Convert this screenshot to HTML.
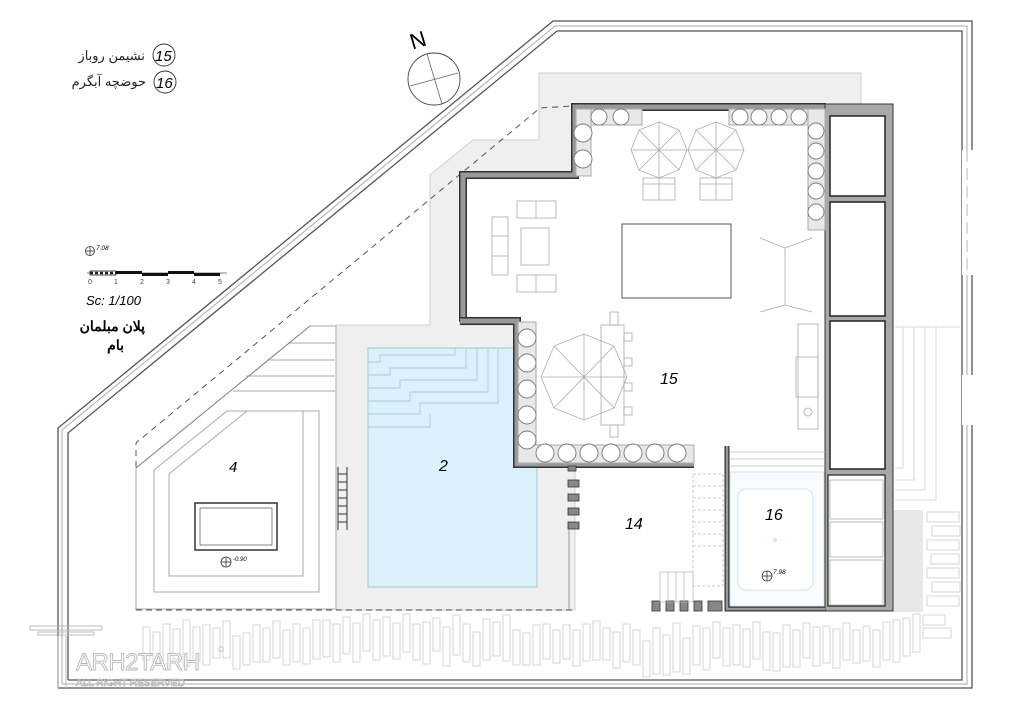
<!DOCTYPE html>
<html><head><meta charset="utf-8"><style>
html,body{margin:0;padding:0;background:#fff;}
svg{display:block;}
text{font-family:"Liberation Sans","Noto Sans CJK SC",sans-serif;}
</style></head><body>
<svg width="1018" height="720" viewBox="0 0 1018 720" xmlns="http://www.w3.org/2000/svg">
<rect width="1018" height="720" fill="#fff"/>

<!-- gray paving -->
<polygon points="430,175 473,140 539,140 539,73 861,73 861,200 460,200 460,325 575,325 575,610 336,610 336,325 430,325" fill="#efefef" stroke="#cfcfcf" stroke-width="1"/>
<rect x="893" y="510" width="30" height="102" fill="#e8e8e8"/>

<!-- outer boundary -->
<g fill="none" stroke="#555" stroke-width="1.3">
<polyline points="58,688 58,428 553,21 972,21 972,688 58,688"/>
<polyline points="68,680 68,433 557,31 962,31 962,680 68,680"/>
</g>
<g fill="none" stroke="#aaa" stroke-width="1">
<polyline points="62,684 62,430 555,26 967,26 967,684 62,684"/>
</g>
<rect x="962" y="150" width="11" height="125" fill="#fff"/>
<rect x="962" y="375" width="11" height="50" fill="#fff"/>
<line x1="967" y1="150" x2="967" y2="275" stroke="#999" stroke-width="0.7" stroke-dasharray="12,6"/>

<!-- dashed line -->
<polyline points="136,610 136,443 540,108 572,106" fill="none" stroke="#444" stroke-width="0.9" stroke-dasharray="6,5"/>
<line x1="136" y1="610" x2="575" y2="610" stroke="#444" stroke-width="0.9" stroke-dasharray="6,4"/>

<!-- left garden -->
<g fill="none" stroke="#aaa" stroke-width="1">
<polygon points="136,468 310,326 336,326 336,609 136,609"/>
<polygon points="154,470 227,411 319,411 319,592 154,592"/>
<polygon points="169,474 247,411 303,411 303,576 169,576"/>
<line x1="288" y1="343" x2="335" y2="343"/><line x1="267" y1="360" x2="335" y2="360"/><line x1="246" y1="376" x2="335" y2="376"/><line x1="233" y1="391" x2="335" y2="391"/>
<polyline points="136,468 310,326" stroke="#888"/>
</g>
<rect x="195" y="503" width="82" height="47" fill="#fff" stroke="#333" stroke-width="1.5"/>
<rect x="200" y="508" width="72" height="37" fill="none" stroke="#666" stroke-width="0.8"/>
<g stroke="#333" stroke-width="1" fill="none">
<line x1="338" y1="467" x2="338" y2="530"/><line x1="347" y1="467" x2="347" y2="530"/>
<line x1="338" y1="474" x2="347" y2="474"/><line x1="338" y1="482" x2="347" y2="482"/><line x1="338" y1="490" x2="347" y2="490"/><line x1="338" y1="498" x2="347" y2="498"/><line x1="338" y1="506" x2="347" y2="506"/><line x1="338" y1="514" x2="347" y2="514"/><line x1="338" y1="522" x2="347" y2="522"/>
</g>
<circle cx="226" cy="562" r="5" fill="none" stroke="#333" stroke-width="0.8"/><line x1="221" y1="562" x2="231" y2="562" stroke="#333" stroke-width="0.8"/><line x1="226" y1="557" x2="226" y2="567" stroke="#333" stroke-width="0.8"/>
<text x="233" y="561" font-size="6" font-style="italic">-0.90</text>
<text x="229" y="472" font-size="15" font-style="italic">4</text>

<!-- pool -->
<rect x="368" y="348" width="169" height="239" fill="#dcf0fb" stroke="#9cc" stroke-width="1"/>
<g fill="none" stroke="#a9c9d6" stroke-width="0.9">
<polyline points="368,362 380,362 380,355 455,355 455,348"/>
<polyline points="368,375 390,375 390,368 466,368 466,348"/>
<polyline points="368,388 400,388 400,380 477,380 477,348"/>
<polyline points="368,401 410,401 410,392 488,392 488,348"/>
<polyline points="368,414 420,414 420,403 498,403 498,348"/>
<polyline points="368,427 430,427 430,414"/>
</g>
<text x="439" y="471" font-size="16" font-style="italic">2</text>

<!-- terrace 15 walls -->
<polygon points="460,322 460,172 572,172 572,104 826,104 826,470 694,470 694,466 514,466 514,322" fill="#fff"/>
<polyline points="463,322 463,175 575,175 575,107 826,107" fill="none" stroke="#333" stroke-width="8"/>
<polyline points="463,322 463,175 575,175 575,107 826,107" fill="none" stroke="#999" stroke-width="5"/>
<polyline points="460,321 517,321 517,464 694,464" fill="none" stroke="#333" stroke-width="8"/>
<polyline points="460,321 517,321 517,464 694,464" fill="none" stroke="#999" stroke-width="5"/>

<!-- right column -->
<rect x="825" y="104" width="68" height="507" fill="#a8a8a8" stroke="#333" stroke-width="1"/>
<rect x="830" y="116" width="55" height="80" fill="#fff" stroke="#222" stroke-width="1.5"/>
<rect x="830" y="202" width="55" height="114" fill="#fff" stroke="#222" stroke-width="1.5"/>
<rect x="830" y="321" width="55" height="148" fill="#fff" stroke="#222" stroke-width="1.5"/>
<rect x="828" y="475" width="57" height="131" fill="#fff" stroke="#222" stroke-width="1.2"/>
<rect x="830" y="480" width="53" height="39" fill="#fff" stroke="#aaa" stroke-width="0.8"/>
<rect x="830" y="522" width="53" height="35" fill="#fff" stroke="#aaa" stroke-width="0.8"/>
<rect x="830" y="560" width="53" height="45" fill="#fff" stroke="#aaa" stroke-width="0.8"/>

<!-- benches -->
<g fill="#e8e8e8" stroke="#aaa" stroke-width="1">
<rect x="576" y="109" width="66" height="16"/><rect x="576" y="109" width="15" height="67"/>
<rect x="729" y="109" width="97" height="16"/><rect x="808" y="109" width="17" height="121"/>
<rect x="518" y="322" width="18" height="142"/><rect x="518" y="445" width="176" height="18"/>
</g>
<g fill="#fff" stroke="#777" stroke-width="0.9">
<circle cx="599" cy="117" r="8"/><circle cx="621" cy="117" r="8"/>
<circle cx="583" cy="133" r="9"/><circle cx="583" cy="159" r="9"/>
<circle cx="740" cy="117" r="8"/><circle cx="759" cy="117" r="8"/><circle cx="779" cy="117" r="8"/><circle cx="799" cy="117" r="8"/>
<circle cx="816" cy="131" r="8"/><circle cx="816" cy="151" r="8"/><circle cx="816" cy="171" r="8"/><circle cx="816" cy="191" r="8"/><circle cx="816" cy="212" r="8"/>
<circle cx="527" cy="338" r="9"/><circle cx="527" cy="363" r="9"/><circle cx="527" cy="389" r="9"/><circle cx="527" cy="415" r="9"/><circle cx="527" cy="440" r="9"/>
<circle cx="545" cy="453" r="9"/><circle cx="567" cy="453" r="9"/><circle cx="589" cy="453" r="9"/><circle cx="611" cy="453" r="9"/><circle cx="633" cy="453" r="9"/><circle cx="655" cy="453" r="9"/><circle cx="677" cy="453" r="9"/>
</g>

<!-- umbrellas -->
<g fill="none" stroke="#aaa" stroke-width="0.8">
<polygon points="659,122 679,130 687,150 679,170 659,178 639,170 631,150 639,130"/>
<line x1="659" y1="122" x2="659" y2="178"/><line x1="631" y1="150" x2="687" y2="150"/><line x1="639" y1="130" x2="679" y2="170"/><line x1="679" y1="130" x2="639" y2="170"/>
<polygon points="716,122 736,130 744,150 736,170 716,178 696,170 688,150 696,130"/>
<line x1="716" y1="122" x2="716" y2="178"/><line x1="688" y1="150" x2="744" y2="150"/><line x1="696" y1="130" x2="736" y2="170"/><line x1="736" y1="130" x2="696" y2="170"/>
<rect x="643" y="178" width="32" height="22"/><line x1="659" y1="178" x2="659" y2="200"/><line x1="643" y1="184" x2="675" y2="184"/>
<rect x="700" y="178" width="32" height="22"/><line x1="716" y1="178" x2="716" y2="200"/><line x1="700" y1="184" x2="732" y2="184"/>
<polygon points="584,334 614,346 627,377 614,408 584,420 554,408 541,377 554,346"/>
<line x1="584" y1="334" x2="584" y2="420"/><line x1="541" y1="377" x2="627" y2="377"/><line x1="554" y1="346" x2="614" y2="408"/><line x1="614" y1="346" x2="554" y2="408"/>
<rect x="601" y="325" width="23" height="100"/>
<rect x="610" y="312" width="8" height="13"/><rect x="610" y="425" width="8" height="12"/>
<rect x="624" y="333" width="8" height="8"/><rect x="624" y="358" width="8" height="8"/><rect x="624" y="383" width="8" height="8"/><rect x="624" y="407" width="8" height="8"/>
<!-- sofas -->
<rect x="517" y="201" width="39" height="17"/><line x1="536" y1="201" x2="536" y2="218"/>
<rect x="521" y="228" width="28" height="37"/>
<rect x="492" y="217" width="16" height="58"/><line x1="492" y1="236" x2="508" y2="236"/><line x1="492" y1="256" x2="508" y2="256"/>
<rect x="517" y="275" width="39" height="17"/><line x1="536" y1="275" x2="536" y2="292"/>
<!-- tripods -->
<line x1="785" y1="248" x2="785" y2="305"/><line x1="785" y1="248" x2="760" y2="238"/><line x1="785" y1="248" x2="812" y2="238"/>
<line x1="785" y1="305" x2="760" y2="312"/><line x1="785" y1="305" x2="812" y2="312"/>
<!-- kitchen -->
<rect x="798" y="324" width="20" height="105"/><rect x="796" y="357" width="22" height="40"/><circle cx="808" cy="412" r="4"/>
</g>
<rect x="622" y="224" width="109" height="74" fill="#fff" stroke="#555" stroke-width="1"/>
<text x="660" y="384" font-size="16" font-style="italic">15</text>

<!-- area 14 -->
<rect x="568" y="466" width="8" height="5" fill="#888" stroke="#333" stroke-width="0.8"/>
<g fill="#888" stroke="#333" stroke-width="0.8">
<rect x="568" y="480" width="11" height="7"/><rect x="568" y="494" width="11" height="7"/><rect x="568" y="508" width="11" height="7"/><rect x="568" y="522" width="11" height="7"/>
<rect x="652" y="601" width="8" height="10"/><rect x="666" y="601" width="8" height="10"/><rect x="680" y="601" width="8" height="10"/><rect x="694" y="601" width="8" height="10"/><rect x="708" y="601" width="14" height="10"/>
</g>
<line x1="569" y1="529" x2="569" y2="610" stroke="#999" stroke-width="1"/>
<g fill="none" stroke="#bbb" stroke-width="0.8" stroke-dasharray="3,2">
<rect x="693" y="474" width="30" height="112"/>
<line x1="693" y1="486" x2="723" y2="486"/><line x1="693" y1="498" x2="723" y2="498"/><line x1="693" y1="510" x2="723" y2="510"/><line x1="693" y1="522" x2="723" y2="522"/><line x1="693" y1="534" x2="723" y2="534"/><line x1="693" y1="546" x2="723" y2="546"/>
</g>
<g fill="none" stroke="#bbb" stroke-width="0.8">
<rect x="660" y="572" width="33" height="30"/><line x1="668" y1="572" x2="668" y2="602"/><line x1="676" y1="572" x2="676" y2="602"/><line x1="684" y1="572" x2="684" y2="602"/>
</g>
<text x="625" y="529" font-size="16" font-style="italic">14</text>

<!-- room 16 -->
<polyline points="727,446 727,609 825,609" fill="none" stroke="#333" stroke-width="5"/>
<polyline points="727,446 727,609 825,609" fill="none" stroke="#999" stroke-width="2.5"/>
<g stroke="#bbb" stroke-width="0.8"><line x1="730" y1="452" x2="825" y2="452"/><line x1="730" y1="459" x2="825" y2="459"/><line x1="730" y1="466" x2="825" y2="466"/></g>
<rect x="730" y="472" width="94" height="134" fill="#f7fbfd" stroke="#cde6f0" stroke-width="1"/>
<rect x="738" y="489" width="75" height="101" rx="8" fill="#fff" stroke="#cde6f0" stroke-width="1"/>
<circle cx="775" cy="540" r="2" fill="#cde6f0"/>
<text x="765" y="520" font-size="16" font-style="italic">16</text>
<circle cx="767" cy="576" r="5" fill="none" stroke="#333" stroke-width="0.8"/><line x1="762" y1="576" x2="772" y2="576" stroke="#333" stroke-width="0.8"/><line x1="767" y1="571" x2="767" y2="581" stroke="#333" stroke-width="0.8"/>
<text x="773" y="574" font-size="6.5" font-style="italic">7.98</text>

<!-- right side steps -->
<g fill="none" stroke="#ccc" stroke-width="0.8">
<polyline points="895,327 960,327"/>
<polyline points="895,468 903,468 903,327"/><polyline points="895,480 914,480 914,327"/><polyline points="895,490 925,490 925,327"/><polyline points="895,500 936,500 936,327"/>
<rect x="927" y="512" width="32" height="10"/><rect x="932" y="526" width="28" height="10"/><rect x="927" y="540" width="32" height="10"/><rect x="931" y="554" width="28" height="10"/><rect x="927" y="568" width="32" height="10"/><rect x="932" y="582" width="28" height="10"/><rect x="927" y="596" width="32" height="10"/>
</g>

<!-- fence -->
<g fill="none" stroke="#d2d2d2" stroke-width="0.9">
<rect x="143" y="627" width="7" height="33"/><rect x="153" y="632" width="7" height="30"/><rect x="163" y="624" width="7" height="40"/><rect x="173" y="629" width="7" height="30"/><rect x="183" y="620" width="7" height="46"/><rect x="193" y="627" width="7" height="34"/><rect x="203" y="625" width="7" height="40"/><rect x="213" y="628" width="7" height="30"/><rect x="223" y="621" width="7" height="37"/><rect x="233" y="636" width="7" height="33"/>
<rect x="243" y="633" width="7" height="32"/><rect x="253" y="625" width="7" height="37"/><rect x="263" y="628" width="7" height="34"/><rect x="273" y="621" width="7" height="37"/><rect x="283" y="630" width="7" height="35"/><rect x="293" y="624" width="7" height="38"/><rect x="303" y="628" width="7" height="36"/><rect x="313" y="620" width="7" height="39"/><rect x="323" y="620" width="7" height="37"/><rect x="333" y="624" width="7" height="38"/>
<rect x="343" y="617" width="7" height="37"/><rect x="353" y="623" width="7" height="39"/><rect x="363" y="614" width="7" height="37"/><rect x="373" y="620" width="7" height="40"/><rect x="383" y="617" width="7" height="39"/><rect x="393" y="623" width="7" height="36"/><rect x="403" y="614" width="7" height="38"/><rect x="413" y="624" width="7" height="36"/><rect x="423" y="622" width="7" height="42"/><rect x="433" y="618" width="7" height="33"/>
<rect x="443" y="627" width="7" height="39"/><rect x="453" y="615" width="7" height="40"/><rect x="463" y="624" width="7" height="38"/><rect x="473" y="632" width="7" height="34"/><rect x="483" y="619" width="7" height="41"/><rect x="493" y="622" width="7" height="34"/><rect x="503" y="615" width="7" height="46"/><rect x="513" y="630" width="7" height="35"/><rect x="523" y="633" width="7" height="32"/><rect x="533" y="625" width="7" height="40"/>
<rect x="543" y="624" width="7" height="35"/><rect x="553" y="630" width="7" height="33"/><rect x="563" y="625" width="7" height="34"/><rect x="573" y="630" width="7" height="36"/><rect x="583" y="624" width="7" height="37"/><rect x="593" y="621" width="7" height="39"/><rect x="603" y="628" width="7" height="32"/><rect x="613" y="632" width="7" height="36"/><rect x="623" y="624" width="7" height="38"/><rect x="633" y="630" width="7" height="35"/>
<rect x="643" y="641" width="7" height="36"/><rect x="653" y="628" width="7" height="46"/><rect x="663" y="635" width="7" height="40"/><rect x="673" y="623" width="7" height="49"/><rect x="683" y="638" width="7" height="36"/><rect x="693" y="626" width="7" height="39"/><rect x="703" y="628" width="7" height="42"/><rect x="713" y="622" width="7" height="36"/><rect x="723" y="628" width="7" height="38"/><rect x="733" y="625" width="7" height="40"/>
<rect x="743" y="629" width="7" height="38"/><rect x="753" y="622" width="7" height="37"/><rect x="763" y="632" width="7" height="38"/><rect x="773" y="633" width="7" height="38"/><rect x="783" y="625" width="7" height="42"/><rect x="793" y="630" width="7" height="37"/><rect x="803" y="623" width="7" height="35"/><rect x="813" y="627" width="7" height="39"/><rect x="823" y="626" width="7" height="37"/><rect x="833" y="629" width="7" height="39"/>
<rect x="843" y="623" width="7" height="37"/><rect x="853" y="630" width="7" height="33"/><rect x="863" y="626" width="7" height="35"/><rect x="873" y="630" width="7" height="37"/><rect x="883" y="622" width="7" height="38"/><rect x="893" y="620" width="7" height="42"/><rect x="903" y="618" width="7" height="38"/><rect x="913" y="614" width="7" height="38"/><rect x="923" y="615" width="22" height="10"/><rect x="923" y="628" width="28" height="10"/>
</g>

<!-- watermark -->
<g fill="none" stroke="#bbb" stroke-width="1">
<rect x="30" y="626" width="72" height="4"/><rect x="38" y="632" width="56" height="3"/>
<line x1="58" y1="636" x2="58" y2="688"/><line x1="66" y1="636" x2="66" y2="688"/>
</g>
<text x="76" y="670" font-size="24" fill="#fff" stroke="#b8b8b8" stroke-width="0.9" letter-spacing="-0.5">ARH2TARH</text>
<text x="76" y="686" font-size="10" fill="#fff" stroke="#aaa" stroke-width="0.6">ALL RIGHT RESERVED</text>
<text x="218" y="652" font-size="8" fill="#bbb">©</text>

<!-- legend -->
<circle cx="164" cy="55" r="11" fill="none" stroke="#333" stroke-width="0.9"/>
<text x="155" y="61" font-size="15" font-style="italic">15</text>
<circle cx="165" cy="82" r="11" fill="none" stroke="#333" stroke-width="0.9"/>
<text x="156" y="88" font-size="15" font-style="italic">16</text>
<text x="145" y="60" font-size="13" text-anchor="end" fill="#222">نشیمن روباز</text>
<text x="146" y="86" font-size="13" text-anchor="end" fill="#222">حوضچه آبگرم</text>

<!-- north -->
<circle cx="434" cy="79" r="26" fill="none" stroke="#444" stroke-width="0.9"/>
<line x1="427" y1="54" x2="442" y2="104" stroke="#666" stroke-width="0.8"/>
<line x1="410" y1="86" x2="458" y2="73" stroke="#666" stroke-width="0.8"/>
<text x="410" y="47" font-size="22" transform="rotate(-17 420 40)">N</text>

<!-- scale -->
<circle cx="90" cy="251" r="4.5" fill="none" stroke="#333" stroke-width="0.8"/><line x1="85.5" y1="251" x2="94.5" y2="251" stroke="#333" stroke-width="0.8"/><line x1="90" y1="246.5" x2="90" y2="255.5" stroke="#333" stroke-width="0.8"/>
<text x="96" y="250" font-size="6.5" font-style="italic">7.08</text>
<line x1="87" y1="273" x2="227" y2="273" stroke="#555" stroke-width="0.7"/>
<rect x="90" y="271" width="26" height="4" fill="#fff" stroke="#222" stroke-width="0.8"/>
<line x1="90" y1="273" x2="116" y2="273" stroke="#222" stroke-width="2.5" stroke-dasharray="3,2"/>
<rect x="116" y="271" width="26" height="3" fill="#111"/><rect x="142" y="273" width="26" height="3" fill="#111"/><rect x="168" y="271" width="26" height="3" fill="#111"/><rect x="194" y="273" width="26" height="3" fill="#111"/>
<g font-size="7" fill="#444"><text x="88" y="284">0</text><text x="114" y="284">1</text><text x="140" y="284">2</text><text x="166" y="284">3</text><text x="192" y="284">4</text><text x="218" y="284">5</text></g>
<text x="86" y="305" font-size="13" font-style="italic">Sc: 1/100</text>
<text x="145" y="331" font-size="14" text-anchor="end" font-weight="bold">پلان مبلمان</text>
<text x="124" y="350" font-size="14" text-anchor="end" font-weight="bold">بام</text>
</svg>
</body></html>
